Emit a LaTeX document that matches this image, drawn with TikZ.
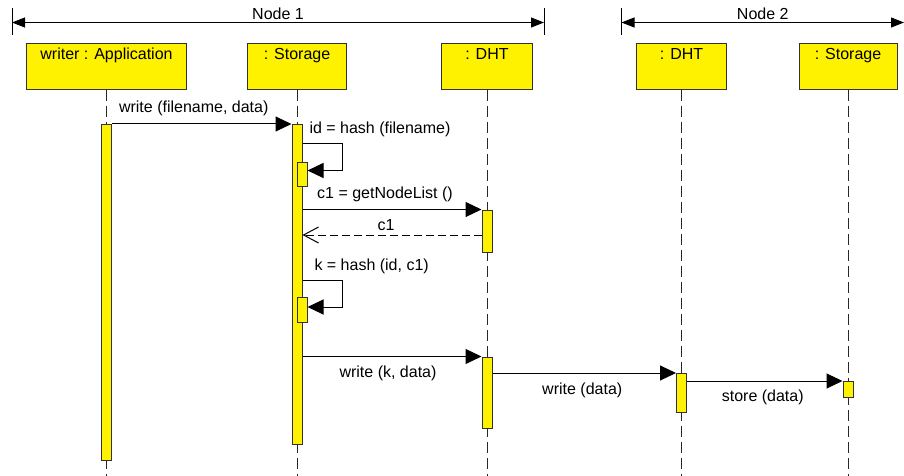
\documentclass[tikz,border=0pt]{standalone}
\usepackage{fontspec}
\setmainfont{Liberation Sans}
\usetikzlibrary{arrows.meta, positioning}

\begin{document}
\begin{tikzpicture}[x=1pt, y=-1pt, line width=1pt,
    font=\fontsize{16}{18}\selectfont, >={Triangle[length=16pt, width=15pt]},
    obj/.style={draw=black!80, fill=yellow, anchor=north, inner xsep=0pt, inner ysep=0pt, text height=16pt, text depth=30pt},
    bar/.style={draw=black!80, fill=yellow, anchor=north, minimum width=10pt, inner sep=0pt},
    lbl/.style={inner sep=0pt, text height=11.5pt, text depth=3.5pt},
    lifeline/.style={black!85, dash pattern=on 11pt off 5pt},
    msg/.style={->},
    reply/.style={-{Straight Barb[length=15pt, width=16pt]}, dash pattern=on 8pt off 4pt},
    span/.style={{Triangle[length=13pt, width=10pt]}-{Triangle[length=13pt, width=10pt]}}]
    \useasboundingbox (0,0) rectangle (904,476);
    \def\Ax{106.5} \def\Sx{297} \def\Dx{487} \def\Ex{681.5} \def\Tx{848}

    % deployment spans
    \coordinate (n1l) at (12,22.5);
    \coordinate (n1r) at (544,22.5);
    \coordinate (n2l) at (621.5,22.5);
    \coordinate (n2r) at (904,22.5);
    \draw[span] (n1l) -- node[lbl, above=-1pt] (n1) {Node 1} (n1r);
    \draw[span] (n2l) -- node[lbl, above=-1pt] (n2) {Node 2} (n2r);
    \draw ([yshift=14.5pt]n1l) -- ([yshift=-12.5pt]n1l);
    \draw ([yshift=14.5pt]n1r) -- ([yshift=-12.5pt]n1r);
    \draw ([yshift=14.5pt]n2l) -- ([yshift=-12.5pt]n2l);

    % objects
    \node[obj, minimum width=160pt] (app) at (\Ax,43) {writer : Application};
    \node[obj, minimum width=98.5pt] (sto) at (\Sx,43) {: Storage};
    \node[obj, minimum width=91pt] (dht) at (\Dx,43) {: DHT};
    \node[obj, minimum width=90pt] (dht2) at (\Ex,43) {: DHT};
    \node[obj, minimum width=98pt] (sto2) at (\Tx,43) {: Storage};

    \foreach \o in {app, sto, dht, dht2, sto2}
        \draw[lifeline] (\o.south) -- (\o.south |- 0,476);

    % activations
    \node[bar, minimum height=336pt] (appbar) at (\Ax,124) {};
    \node[bar, minimum height=320pt] (stobar) at (\Sx,124) {};
    \node[bar, minimum height=24pt] (stoself1) at (\Sx+5,162) {};
    \node[bar, minimum height=42pt] (dhtbar1) at (\Dx,209.5) {};
    \node[bar, minimum height=25pt] (stoself2) at (\Sx+5,297) {};
    \node[bar, minimum height=71.5pt] (dhtbar2) at (\Dx,356.5) {};
    \node[bar, minimum height=39pt] (dht2bar) at (\Ex,373) {};
    \node[bar, minimum height=16pt] (sto2bar) at (\Tx,381) {};

    % messages
    \draw[msg] (appbar.north east) -- node[lbl, above=7.5pt, xshift=-8pt] (m1) {write (filename, data)} (stobar.north west);

    \node[lbl, anchor=base west] (m2) at (309,133) {id = hash (filename)};
    \draw[msg] (stobar.east |- 0,143) -- ++(39.5,0) |- ([yshift=4pt]stoself1.east);

    \draw[msg] (stobar.east |- dhtbar1.north) -- node[lbl, above=7pt, xshift=-7pt] (m3) {c1 = getNodeList ()} (dhtbar1.north west);
    \coordinate (c1y) at (\Dx,235);
    \draw[reply] (c1y -| dhtbar1.west) -- node[lbl, above=0.5pt, xshift=-6pt] (r3) {c1} (c1y -| stobar.east);

    \node[lbl, anchor=base west] (m4) at (314,270) {k = hash (id, c1)};
    \draw[msg] (stobar.east |- 0,280.5) -- ++(39.5,0) |- ([yshift=3pt]stoself2.east);

    \draw[msg] (stobar.east |- dhtbar2.north) -- node[lbl, below=9pt, xshift=-4pt] (m5) {write (k, data)} (dhtbar2.north west);
    \draw[msg] (dhtbar2.east |- dht2bar.north) -- node[lbl, below=9.5pt, xshift=-2pt] (m6) {write (data)} (dht2bar.north west);
    \draw[msg] (dht2bar.east |- sto2bar.north) -- node[lbl, below=8.5pt, xshift=-2pt] (m7) {store (data)} (sto2bar.north west);
\end{tikzpicture}
\end{document}
